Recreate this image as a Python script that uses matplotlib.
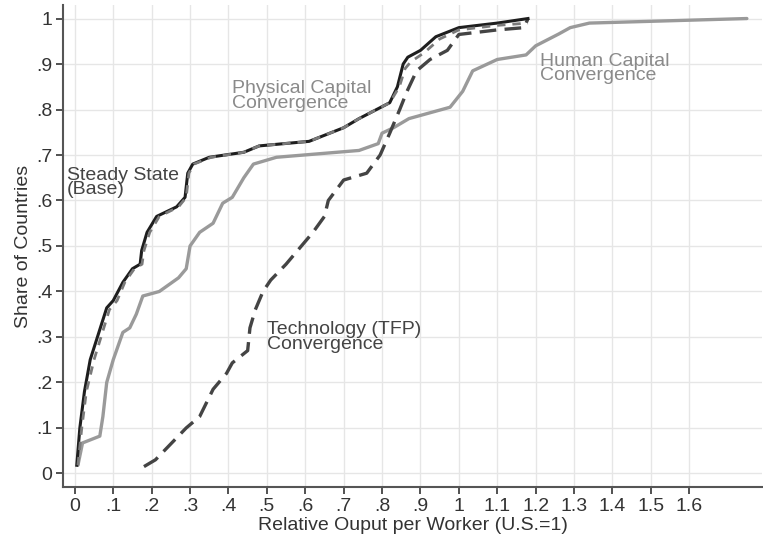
import numpy as np
import matplotlib
matplotlib.use("Agg")
import matplotlib.pyplot as plt

plt.rcParams['font.family'] = ['Liberation Sans', 'DejaVu Sans']

# Steady state (base)
base_x = [0.005, 0.013, 0.025, 0.04, 0.083, 0.10, 0.125, 0.15, 0.17, 0.174, 0.188, 0.213,
          0.265, 0.287, 0.294, 0.307, 0.35, 0.44, 0.48, 0.61, 0.70, 0.74, 0.82, 0.84,
          0.855, 0.867, 0.90, 0.94, 1.0, 1.10, 1.18]
base_y = [0.018, 0.10, 0.18, 0.25, 0.364, 0.38, 0.42, 0.45, 0.46, 0.49, 0.53, 0.565,
          0.586, 0.607, 0.66, 0.68, 0.695, 0.706, 0.72, 0.73, 0.76, 0.78, 0.815, 0.85,
          0.90, 0.915, 0.93, 0.96, 0.98, 0.99, 1.0]

# Physical capital convergence
phys_x = [0.008, 0.018, 0.03, 0.05, 0.09, 0.11, 0.13, 0.155, 0.175, 0.18, 0.195, 0.22,
          0.27, 0.29, 0.297, 0.31, 0.355, 0.44, 0.48, 0.61, 0.70, 0.74, 0.82, 0.845,
          0.86, 0.875, 0.91, 0.95, 1.0, 1.10, 1.18]
phys_y = [0.018, 0.10, 0.18, 0.25, 0.36, 0.38, 0.42, 0.45, 0.46, 0.49, 0.53, 0.565,
          0.586, 0.607, 0.66, 0.68, 0.695, 0.706, 0.72, 0.73, 0.76, 0.78, 0.815, 0.85,
          0.89, 0.905, 0.925, 0.955, 0.975, 0.985, 0.99]

# Human capital convergence
hum_x = [0.008, 0.02, 0.065, 0.073, 0.083, 0.10, 0.125, 0.143, 0.16, 0.177, 0.22, 0.27,
         0.29, 0.30, 0.325, 0.36, 0.385, 0.41, 0.44, 0.465, 0.525, 0.74, 0.79, 0.80,
         0.83, 0.87, 0.977, 1.01, 1.036, 1.10, 1.175, 1.20, 1.26, 1.29, 1.34, 1.75]
hum_y = [0.018, 0.067, 0.082, 0.125, 0.20, 0.25, 0.31, 0.32, 0.35, 0.39, 0.40, 0.43,
         0.45, 0.50, 0.53, 0.55, 0.594, 0.607, 0.65, 0.68, 0.695, 0.71, 0.725, 0.748,
         0.76, 0.78, 0.805, 0.84, 0.885, 0.91, 0.92, 0.94, 0.966, 0.98, 0.99, 1.0]

# Technology (TFP) convergence
tfp_x = [0.18, 0.21, 0.29, 0.325, 0.36, 0.395, 0.41, 0.45, 0.456, 0.47, 0.49, 0.51,
         0.55, 0.58, 0.62, 0.65, 0.66, 0.70, 0.76, 0.795, 0.82, 0.846, 0.865, 0.89,
         0.925, 0.97, 1.0, 1.10, 1.17, 1.18]
tfp_y = [0.015, 0.03, 0.10, 0.125, 0.185, 0.22, 0.243, 0.27, 0.32, 0.36, 0.40, 0.425,
         0.46, 0.49, 0.53, 0.565, 0.60, 0.645, 0.66, 0.70, 0.748, 0.80, 0.84, 0.885,
         0.91, 0.93, 0.965, 0.975, 0.98, 1.0]

x_ticks = [0, 0.1, 0.2, 0.3, 0.4, 0.5, 0.6, 0.7, 0.8, 0.9, 1.0, 1.1, 1.2, 1.3, 1.4, 1.5, 1.6]
x_labels = ["0", ".1", ".2", ".3", ".4", ".5", ".6", ".7", ".8", ".9", "1",
            "1.1", "1.2", "1.3", "1.4", "1.5", "1.6"]
y_ticks = [0, 0.1, 0.2, 0.3, 0.4, 0.5, 0.6, 0.7, 0.8, 0.9, 1.0]
y_labels = ["0", ".1", ".2", ".3", ".4", ".5", ".6", ".7", ".8", ".9", "1"]

fs = 14

fig = plt.figure(figsize=(7.63, 5.43), dpi=100)
ax = fig.add_axes([0.083, 0.103, 0.916, 0.888])

ax.plot(hum_x, hum_y, color="#9a9a9a", lw=2.4, solid_capstyle="round")
ax.plot(tfp_x, tfp_y, color="#444444", lw=2.4, dashes=(5, 2.5))
ax.plot(base_x, base_y, color="#1e1e1e", lw=2.2)
ax.plot(phys_x, phys_y, color="#7a7a7a", lw=2.0, dashes=(3, 2.5))

ax.text(-0.02, 0.64, "Steady State\n(Base)", color="#444444", fontsize=fs,
        va="center", ha="left", linespacing=0.8)
ax.text(0.41, 0.83, "Physical Capital\nConvergence", color="#8a8a8a", fontsize=fs,
        va="center", ha="left", linespacing=0.8)
ax.text(1.21, 0.89, "Human Capital\nConvergence", color="#8a8a8a", fontsize=fs,
        va="center", ha="left", linespacing=0.8)
ax.text(0.50, 0.30, "Technology (TFP)\nConvergence", color="#444444", fontsize=fs,
        va="center", ha="left", linespacing=0.8)

ax.set_xlim(-0.03, 1.79)
ax.set_ylim(-0.03, 1.03)
ax.set_xticks(x_ticks)
ax.set_xticklabels(x_labels)
ax.set_yticks(y_ticks)
ax.set_yticklabels(y_labels)
ax.tick_params(labelsize=fs, colors="#333333", length=5, width=1.2, pad=3)
ax.grid(True, color="#e6e6e6", lw=1.0)
ax.set_axisbelow(True)
for s in ["top", "right"]:
    ax.spines[s].set_visible(False)
for s in ["left", "bottom"]:
    ax.spines[s].set_color("#555555")
    ax.spines[s].set_linewidth(1.5)

ax.set_xlabel("Relative Ouput per Worker (U.S.=1)", fontsize=fs, color="#333333", labelpad=1)
ax.set_ylabel("Share of Countries", fontsize=fs, color="#333333", labelpad=3)

fig.savefig("out.png", dpi=100)
